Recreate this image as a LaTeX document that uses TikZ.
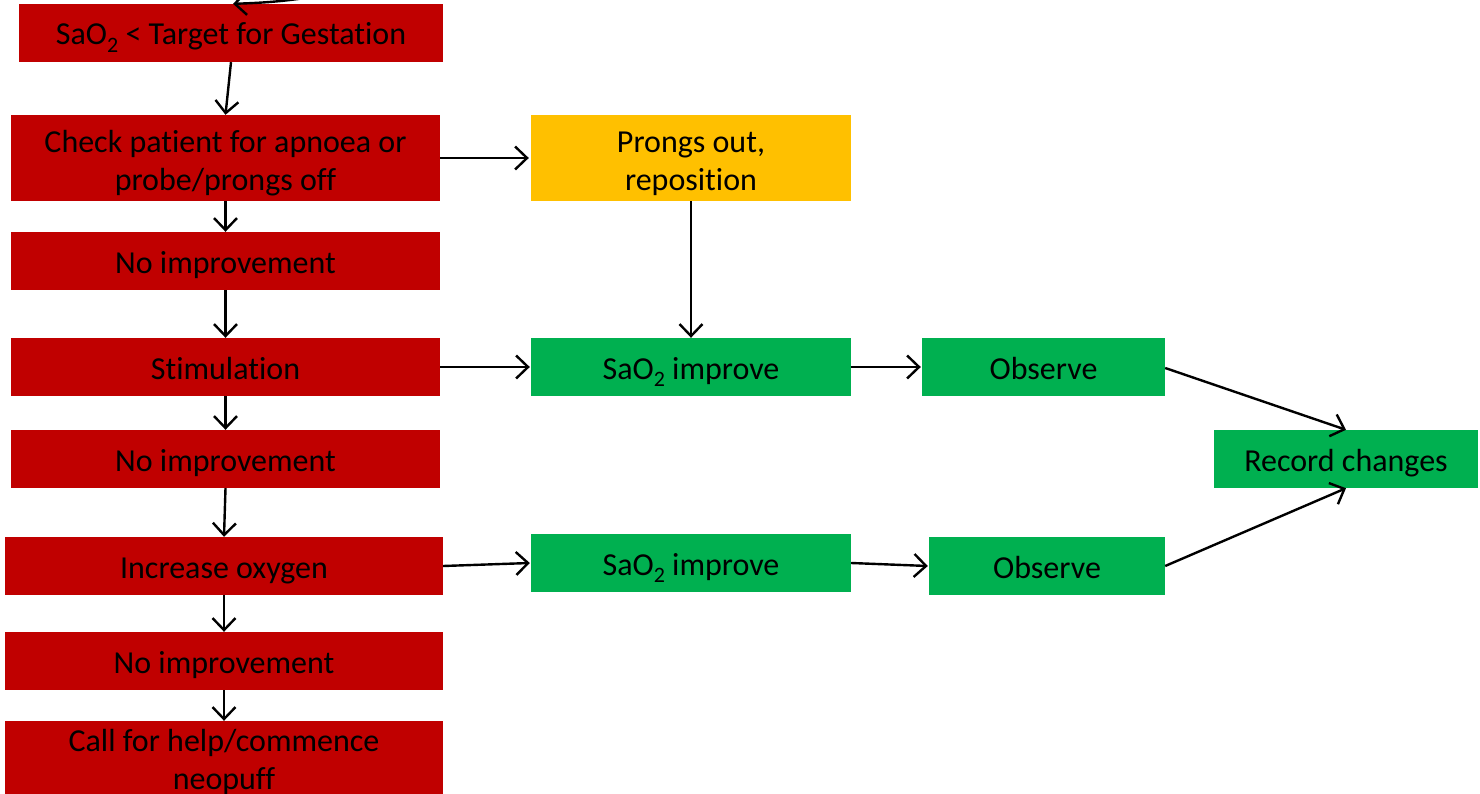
\documentclass[tikz,border=0pt]{standalone}
\usepackage{fontspec}
\setmainfont[Ligatures=NoCommon]{Carlito}
\usetikzlibrary{arrows.meta}
\definecolor{boxred}{HTML}{C00000}
\definecolor{boxyellow}{HTML}{FFC000}
\definecolor{boxgreen}{HTML}{00B050}
\newcommand{\subtwo}{\raisebox{-0.22em}{\fontsize{22}{22}\selectfont 2}}
\tikzset{
  fbox/.style={rectangle, inner sep=0pt, align=center, text=black,
    font=\fontsize{32}{38}\selectfont, text height=30pt, text depth=6pt},
  twoline/.style={text height=71pt, text depth=6pt},
  redbox/.style={fbox, fill=boxred},
  yellowbox/.style={fbox, fill=boxyellow},
  greenbox/.style={fbox, fill=boxgreen},
  conn/.style={draw=black, line width=2.4pt, -{Straight Barb[length=12pt,width=23pt]}},
}
\begin{document}
\begin{tikzpicture}[x=1pt,y=-1pt]
\clip (0,0) rectangle (1480,794);
\fill[white] (0,0) rectangle (1480,794);
% left column
\node[redbox, minimum width=424pt, minimum height=58pt] (sao) at (231,33) {SaO\subtwo{} < Target for Gestation};
\node[redbox, twoline, minimum width=429pt, minimum height=86pt] (check) at (225.5,158) {Check patient for apnoea or\\probe/prongs off};
\node[redbox, minimum width=429pt, minimum height=58pt] (noimpa) at (225.5,261) {No improvement};
\node[redbox, minimum width=429pt, minimum height=58pt] (stim) at (225.5,367) {Stimulation};
\node[redbox, minimum width=429pt, minimum height=58pt] (noimpb) at (225.5,459) {No improvement};
\node[redbox, minimum width=438pt, minimum height=58pt] (incr) at (224,566) {Increase oxygen};
\node[redbox, minimum width=438pt, minimum height=58pt] (noimpc) at (224,661) {No improvement};
\node[redbox, twoline, text height=65pt, minimum width=438pt, minimum height=78pt] (call) at (224,760) {Call for help/commence\\neopuff};
% middle column
\node[yellowbox, twoline, minimum width=320pt, minimum height=86pt] (prongs) at (691,158) {Prongs out,\\reposition};
\node[greenbox, minimum width=320pt, minimum height=58pt] (impa) at (691,367) {SaO\subtwo{} improve};
\node[greenbox, minimum width=320pt, minimum height=58pt] (impb) at (691,563) {SaO\subtwo{} improve};
% right columns
\node[greenbox, minimum width=243pt, minimum height=58pt] (obsa) at (1043.5,367) {Observe};
\node[greenbox, minimum width=236pt, minimum height=58pt] (obsb) at (1047,566) {Observe};
\node[greenbox, minimum width=264pt, minimum height=58pt] (rec) at (1346,459) {Record changes};
% incoming
\coordinate (inc) at (330,-6);
% connectors
\draw[conn] (inc) to[bend left=4] ([xshift=2pt]sao.north);
\draw[conn] (sao.south) -- (check.north);
\draw[conn] (check.east) -- ([xshift=-2pt]prongs.west);
\draw[conn] (check.south) -- (noimpa.north);
\draw[conn] (noimpa.south) -- (stim.north);
\draw[conn] (prongs.south) -- (impa.north);
\draw[conn] (stim.east) -- ([xshift=-1pt]impa.west);
\draw[conn] (impa.east) -- ([xshift=-1pt]obsa.west);
\draw[conn] ([yshift=-1pt]obsa.east) -- (rec.north);
\draw[conn] (stim.south) -- (noimpb.north);
\draw[conn] (noimpb.south) -- (incr.north);
\draw[conn] (incr.east) -- ([xshift=-1pt]impb.west);
\draw[conn] (impb.east) -- ([xshift=-1pt]obsb.west);
\draw[conn] (obsb.east) -- (rec.south);
\draw[conn] (incr.south) -- (noimpc.north);
\draw[conn] (noimpc.south) -- (call.north);
\end{tikzpicture}
\end{document}
